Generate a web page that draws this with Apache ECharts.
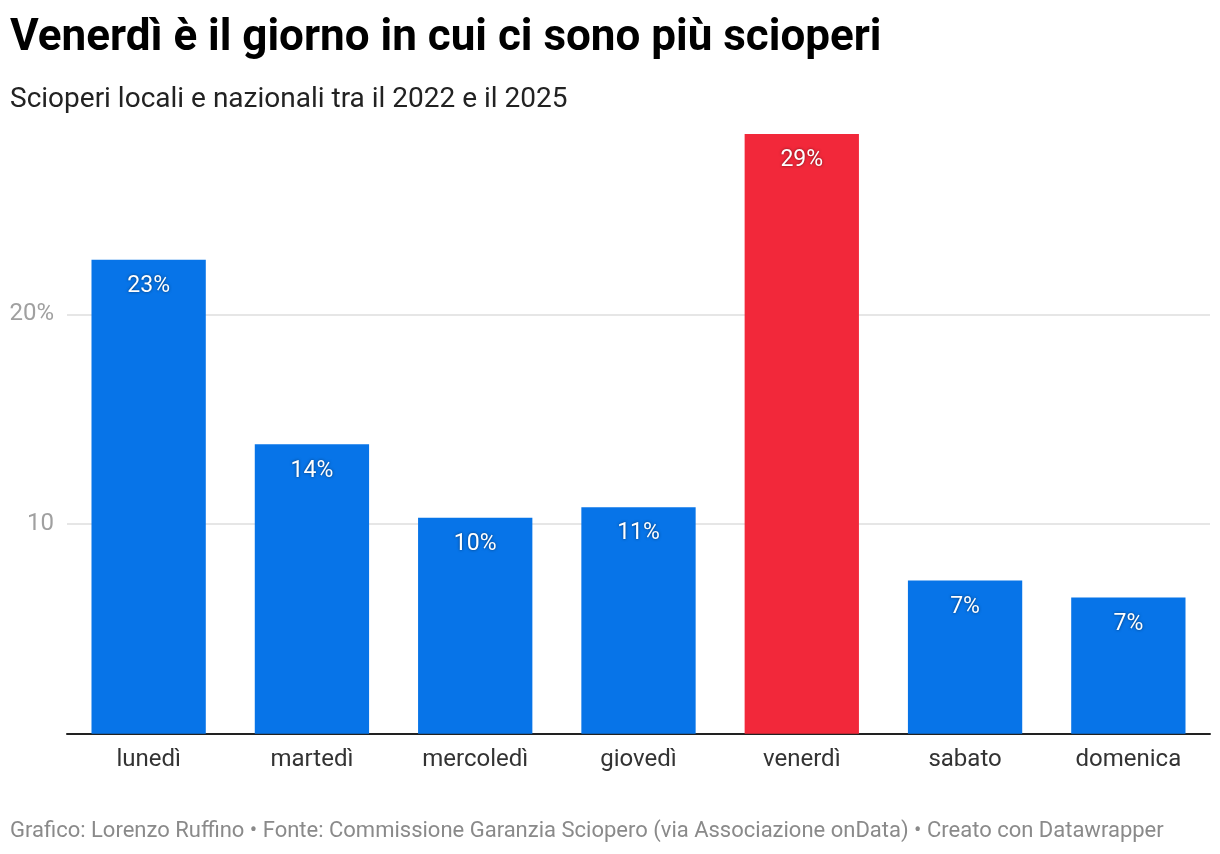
<!DOCTYPE html>
<html>
<head>
<meta charset="utf-8">
<script src="https://cdn.jsdelivr.net/npm/echarts@6/dist/echarts.min.js"></script>
<style>
html,body{margin:0;padding:0;background:#fff;}
#c{width:1220px;height:854px;}
</style>
</head>
<body>
<div id="c"></div>
<script>
const categories = ['lunedì', 'martedì', 'mercoledì', 'giovedì', 'venerdì', 'sabato', 'domenica'];
const values = [22.6, 13.8, 10.3, 10.8, 28.6, 7.3, 6.5];
const highlight = 'venerdì';
const yTicks = [0, 10, 20, 30];

const chart = echarts.init(document.getElementById('c'), null, {renderer: 'canvas'});
const font = 'Roboto, "Noto Sans", sans-serif';
chart.setOption({
  animation: false,
  textStyle: {fontFamily: font},
  title: [
    {text: 'Venerdì è il giorno in cui ci sono più scioperi', left: 5, top: 12,
     textStyle: {fontSize: 44, fontWeight: 'bold', color: '#000', fontFamily: font}},
    {text: 'Scioperi locali e nazionali tra il 2022 e il 2025', left: 5, top: 81,
     textStyle: {fontSize: 28, fontWeight: 'normal', color: '#222', fontFamily: font}},
    {text: 'Grafico: Lorenzo Ruffino • Fonte: Commissione Garanzia Sciopero (via Associazione onData) • Creato con Datawrapper', left: 5, top: 815,
     textStyle: {fontSize: 22, fontWeight: 'normal', color: '#8a8a8a', fontFamily: font}}
  ],
  grid: {left: 67, right: 10, top: 104.6, bottom: 120.3, containLabel: false},
  xAxis: {
    type: 'category',
    data: categories,
    axisLine: {show: true, lineStyle: {color: '#222', width: 2}},
    axisTick: {show: false},
    axisLabel: {fontSize: 24, color: '#333', margin: 14, fontFamily: font}
  },
  yAxis: {
    type: 'value',
    min: yTicks[0], max: yTicks[yTicks.length - 1], interval: 10,
    axisLine: {show: false},
    axisTick: {show: false},
    splitLine: {show: true, lineStyle: {color: ['transparent', '#e6e6e6', '#e6e6e6', 'transparent'], width: 2}},
    axisLabel: {
      fontSize: 24, color: '#a0a0a0', margin: 13, fontFamily: font,
      formatter: function (v) {
        if (v === 0 || v === 30) return '';
        if (v === 20) return v + '%';
        return String(v);
      }
    }
  },
  series: [{
    type: 'bar',
    barCategoryGap: '30%',
    data: values.map(function (v, i) {
      return {value: v, itemStyle: {color: categories[i] === highlight ? '#f2283a' : '#0774e8'}};
    }),
    label: {
      show: true,
      position: 'insideTop',
      distance: 15,
      fontSize: 23,
      color: '#fff',
      fontFamily: font,
      textShadowColor: 'rgba(0,0,0,0.55)',
      textShadowBlur: 3,
      formatter: function (p) { return Math.round(p.value) + '%'; }
    }
  }]
});
</script>
</body>
</html>
